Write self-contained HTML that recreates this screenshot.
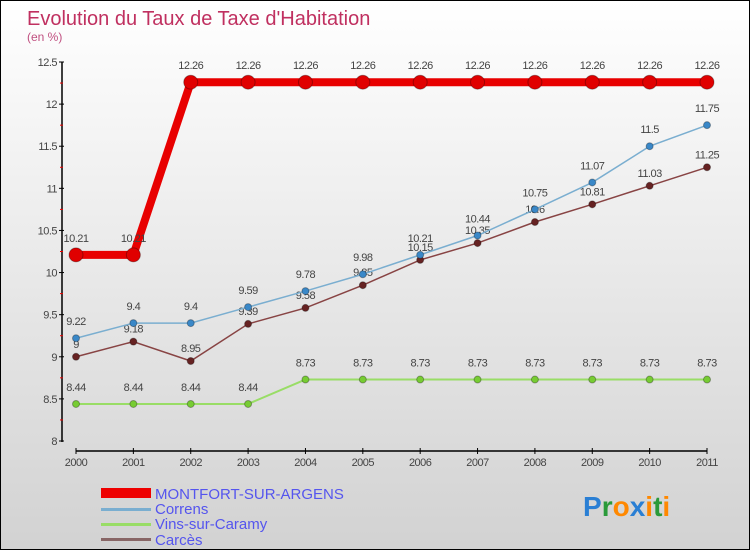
<!DOCTYPE html>
<html><head><meta charset="utf-8"><style>
body{margin:0}
#c{width:750px;height:550px;position:relative;overflow:hidden;background:linear-gradient(#ffffff,#d2d2d2);box-sizing:border-box;border:1px solid #000;font-family:"Liberation Sans",sans-serif}
svg text{font-family:"Liberation Sans",sans-serif}
</style></head><body>
<div id="c">
<svg id="s" width="750" height="550">
<text x="26" y="24" font-size="20" fill="#c03060">Evolution du Taux de Taxe d'Habitation</text>
<text x="26" y="40" font-size="12" fill="#c05080">(en %)</text>
<g id="plot"></g>
<g>
<rect x="100" y="487" width="50" height="10" fill="#e00"/>
<text x="154" y="498" font-size="15" fill="#5555ee">MONTFORT-SUR-ARGENS</text>
<rect x="100" y="507" width="50" height="3" fill="#7aaed0"/>
<text x="154" y="513" font-size="15" fill="#5555ee">Correns</text>
<rect x="100" y="522" width="50" height="3" fill="#99dd66"/>
<text x="154" y="528" font-size="15" fill="#5555ee">Vins-sur-Caramy</text>
<rect x="100" y="537" width="50" height="3" fill="#886666"/>
<text x="154" y="544" font-size="15" fill="#5555ee">Carcès</text>
</g>
<text x="582" y="515" font-size="28" font-weight="bold"><tspan fill="#2a7fd4">P</tspan><tspan fill="#2a9a3a">r</tspan><tspan fill="#ff8800">o</tspan><tspan fill="#2a7fd4">x</tspan><tspan fill="#ff8800">i</tspan><tspan fill="#2a9a3a">t</tspan><tspan fill="#ff8800">i</tspan></text>
</svg>
</div>
<script>
const years=["2000","2001","2002","2003","2004","2005","2006","2007","2008","2009","2010","2011"];
const montfort=[10.21,10.21,12.26,12.26,12.26,12.26,12.26,12.26,12.26,12.26,12.26,12.26];
const correns=[9.22,9.4,9.4,9.59,9.78,9.98,10.21,10.44,10.75,11.07,11.5,11.75];
const vins=[8.44,8.44,8.44,8.44,8.73,8.73,8.73,8.73,8.73,8.73,8.73,8.73];
const carces=[9,9.18,8.95,9.39,9.58,9.85,10.15,10.35,10.6,10.81,11.03,11.25];
const yTicks=[8,8.5,9,9.5,10,10.5,11,11.5,12,12.5];
const NS="http://www.w3.org/2000/svg";
const g=document.getElementById('plot');
const X=i=>75+i*(706-75)/11;
const Y=v=>440-(v-8)*(440-61)/4.5;
function mk(t,a,p){const e=document.createElementNS(NS,t);for(const k in a)e.setAttribute(k,a[k]);(p||g).appendChild(e);return e;}
// axes
let e=mk('line',{x1:61,y1:Y(12.5),x2:61,y2:441,stroke:'#000','stroke-width':1.5});


e=mk('line',{x1:75,y1:450,x2:706,y2:450,stroke:'#000','stroke-width':1.5});


yTicks.forEach(v=>{
 mk('line',{x1:58,y1:Y(v),x2:63,y2:Y(v),stroke:'#000'});
 const t=mk('text',{x:56,y:Y(v)+4,'font-size':11,fill:'#444','text-anchor':'end','letter-spacing':'-0.5'});t.textContent=v;
 
 
 if(v<12.5)mk('line',{x1:59,y1:Y(v+0.25),x2:62,y2:Y(v+0.25),stroke:'#e00'});
});
years.forEach((y,i)=>{
 mk('line',{x1:X(i),y1:447,x2:X(i),y2:453,stroke:'#000'});
 const t=mk('text',{x:X(i),y:465,'font-size':11,fill:'#444','text-anchor':'middle','letter-spacing':'-0.5'});t.textContent=y;
 
 
});
function series(d,name,col,dot,w,r,lbl){
 const sg=mk('g',{});
 
 
 const l=mk('polyline',{points:d.map((v,i)=>X(i)+','+Y(v)).join(' '),fill:'none',stroke:col,'stroke-width':w},sg);
 
 
 d.forEach((v,i)=>{
  const c=mk('circle',{cx:X(i),cy:Y(v),r:r,fill:dot,stroke:'rgba(0,0,0,0.3)'},sg);
  
  
  const t=mk('text',{x:X(i),y:Y(v)+lbl,'font-size':11,fill:'#444','text-anchor':'middle','letter-spacing':'-0.5'},sg);t.textContent=v;
  
  
 });
}
series(vins,'vins','#99dd66','#77cc33',2,3.5,-13);
series(carces,'carces','#884444','#662222',1.5,3.5,-9);
series(correns,'correns','#7aaed0','#3a88c8',1.5,3.5,-13);
series(montfort,'montfort','#e80000','#e00000',8,7,-13);
</script>
</body></html>
